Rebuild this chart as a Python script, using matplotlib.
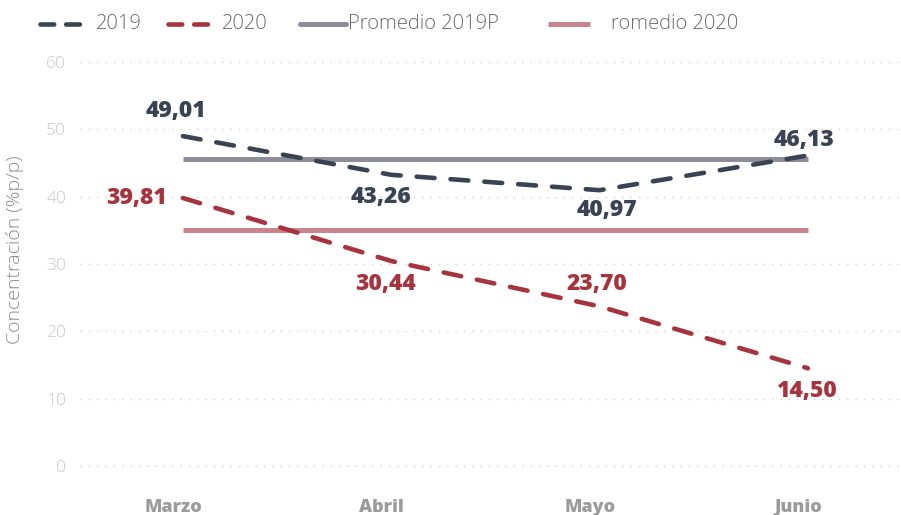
import matplotlib.pyplot as plt
from matplotlib.lines import Line2D

meses = ['Marzo', 'Abril', 'Mayo', 'Junio']
conc_2019 = [49.01, 43.26, 40.97, 46.13]
conc_2020 = [39.81, 30.44, 23.70, 14.50]
prom_2019 = 45.6
prom_2020 = 35.0
yticks = [0, 10, 20, 30, 40, 50, 60]

c2019 = '#3a4354'
c2020 = '#a6343f'
cprom19 = '#8d8e9a'
cprom20 = '#c9858b'

plt.rcParams['font.family'] = ['Open Sans', 'DejaVu Sans']

fig = plt.figure(figsize=(9.01, 5.15), dpi=100)
ax = fig.add_axes([80 / 901, 1 - 486 / 515, 821 / 901, 444 / 515])

x = list(range(len(meses)))
dash = dict(linewidth=3.3, dashes=(3.9, 3.5), dash_capstyle='round', solid_capstyle='round')
ax.plot(x, conc_2019, color=c2019, zorder=4, **dash)
ax.plot(x, conc_2020, color=c2020, zorder=4, **dash)
ax.plot([x[0], x[-1]], [prom_2019] * 2, color=cprom19, linewidth=3.6, solid_capstyle='butt', zorder=3)
ax.plot([x[0], x[-1]], [prom_2020] * 2, color=cprom20, linewidth=3.6, solid_capstyle='butt', zorder=3)

# etiquetas de valor (offset en pixeles respecto al punto)
off19 = [(-7, 25), (-10, -22), (7, -20), (-4, 15)]
off20 = [(-16, 0), (-6, -23), (-3, 22), (-1, -23)]
lab = dict(fontsize=16.5, fontweight='heavy', va='center')
for xi, v, (dx, dy) in zip(x, conc_2019, off19):
    ax.annotate(f'{v:.2f}'.replace('.', ','), (xi, v), xytext=(dx * 0.72, dy * 0.72),
                textcoords='offset points', ha='center', color=c2019, **lab)
for i, (xi, v, (dx, dy)) in enumerate(zip(x, conc_2020, off20)):
    ax.annotate(f'{v:.2f}'.replace('.', ','), (xi, v), xytext=(dx * 0.72, dy * 0.72),
                textcoords='offset points', ha='right' if i == 0 else 'center',
                color=c2020, **lab)

ax.set_xlim(-0.494, 3.447)
ax.set_ylim(-3, 63)
ax.set_yticks(yticks)
ax.set_yticklabels([str(t) for t in yticks], fontsize=12.5, color='#c8c8c8', fontweight='light')
# los nombres de mes van un poco a la izquierda de cada punto
ax.set_xticks([xi - 0.045 for xi in x])
ax.set_xticklabels(meses, fontsize=13, fontweight='heavy', color='#9b9b9b')
ax.tick_params(axis='y', length=0, pad=10)
ax.tick_params(axis='x', length=0, pad=9)
ax.grid(axis='y', color='#cfcfcf', linestyle=(0, (1, 5)), linewidth=1)
ax.set_axisbelow(True)
for s in ax.spines.values():
    s.set_visible(False)

fig.text(15 / 901, 1 - 250 / 515, 'Concentración (%p/p)', rotation=90, ha='center', va='center',
         fontsize=14, color='#8a8a8a', fontweight='light')

# leyenda dibujada a mano
ly = 1 - 24 / 515
items = [
    (40, 87, 96, '2019', c2019, True),
    (168, 215, 222, '2020', c2020, True),
    (300, 346, 348, 'Promedio 2019P', cprom19, False),
    (548, 590, 611, 'romedio 2020', cprom20, False),
]
for x0, x1, xt, txt, col, dashed in items:
    if dashed:
        ln = Line2D([x0 / 901, x1 / 901], [ly, ly], transform=fig.transFigure, color=col,
                    linewidth=3.3, dashes=(3.0, 2.6), dash_capstyle='round')
    else:
        ln = Line2D([x0 / 901, x1 / 901], [ly, ly], transform=fig.transFigure, color=col,
                    linewidth=3.6, solid_capstyle='round' if x1 == 346 else 'butt')
    fig.add_artist(ln)
    fig.text(xt / 901, ly, txt, ha='left', va='center', fontsize=14.5, color='#6a6a6a',
             fontweight='light')

fig.savefig('out.png', dpi=100)
